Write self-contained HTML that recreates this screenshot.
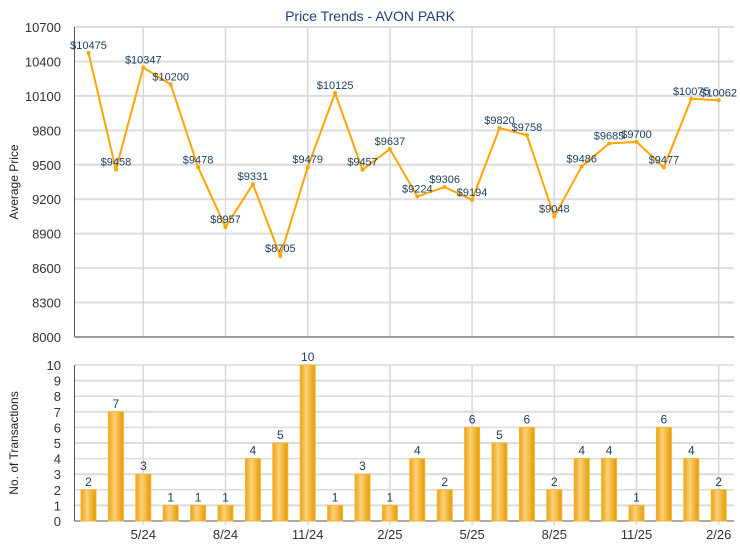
<!DOCTYPE html>
<html><head><meta charset="utf-8"><style>
body{margin:0;background:#fff}
svg{display:block;font-family:"Liberation Sans",Arial,sans-serif}
</style></head><body>
<svg id="s" width="740" height="550" xmlns="http://www.w3.org/2000/svg">
<defs>
<linearGradient id="g" x1="0" x2="1" y1="0" y2="0">
<stop offset="0" stop-color="#eaa21a"/><stop offset="0.4" stop-color="#fdd27a"/><stop offset="1" stop-color="#e49a00"/>
</linearGradient>
</defs>
<text x="370" y="21" text-anchor="middle" font-size="14" fill="#1f3f73">Price Trends - AVON PARK</text>
<text transform="translate(18,182) rotate(-90)" text-anchor="middle" font-size="12" fill="#222">Average Price</text>
<text transform="translate(18,443) rotate(-90)" text-anchor="middle" font-size="12" fill="#222">No. of Transactions</text>
<g id="c"></g>
</svg>
<script>
const ns="http://www.w3.org/2000/svg",c=document.getElementById('c');
function el(t,a,txt){const e=document.createElementNS(ns,t);for(const k in a)e.setAttribute(k,a[k]);if(txt!=null)e.textContent=txt;c.appendChild(e);return e;}
const L=74.5,R=734,T1=27,B1=337,T2=365,B2=521,x0=88.5,dx=27.4;
const P=[10475,9458,10347,10200,9478,8957,9331,8705,9479,10125,9457,9637,9224,9306,9194,9820,9758,9048,9486,9685,9700,9477,10075,10062];
const N=[2,7,3,1,1,1,4,5,10,1,3,1,4,2,6,5,6,2,4,4,1,6,4,2];
const labs=["5/24","8/24","11/24","2/25","5/25","8/25","11/25","2/26"];
// grids top
for(let i=0;i<=9;i++){const v=8000+i*300,y=B1-i*(B1-T1)/9;
 if(i>0)el('line',{x1:L,x2:R,y1:y,y2:y,stroke:'#dcdcdc','stroke-width':2});
 el('text',{x:61,y:y+5,'text-anchor':'end','font-size':13,fill:'#333'},v);}
for(let i=0;i<=10;i++){const y=B2-i*(B2-T2)/10;
 if(i>0)el('line',{x1:L,x2:R,y1:y,y2:y,stroke:'#dcdcdc','stroke-width':i%2?2:1.5});
 el('text',{x:61,y:y+5,'text-anchor':'end','font-size':13,fill:'#333'},i);}
labs.forEach((l,k)=>{const x=x0+(2+3*k)*dx;
 el('line',{x1:x,x2:x,y1:T1,y2:B1,stroke:'#d8d8d8','stroke-width':1.5});
 el('line',{x1:x,x2:x,y1:T2,y2:B2+4,stroke:'#d8d8d8','stroke-width':1.5});
 el('text',{x:x,y:539,'text-anchor':'middle','font-size':13,fill:'#333'},l);});
el('line',{x1:L,x2:L,y1:T1,y2:B1,stroke:'#555','stroke-width':1});
el('line',{x1:L,x2:R,y1:B1,y2:B1,stroke:'#999','stroke-width':2});
el('line',{x1:L,x2:L,y1:T2,y2:B2,stroke:'#555','stroke-width':1});
el('line',{x1:L,x2:R,y1:B2,y2:B2,stroke:'#555','stroke-width':1});
// line
const py=v=>T1+(10700-v)/2700*(B1-T1);
el('polyline',{points:P.map((v,i)=>(x0+i*dx)+','+py(v)).join(' '),fill:'none',stroke:'#ffa500','stroke-width':2});
P.forEach((v,i)=>{const x=x0+i*dx,y=py(v);el('circle',{cx:x,cy:y,r:2,fill:'#ffa500'});
 el('text',{x:x,y:y-4,'text-anchor':'middle','font-size':11,fill:'#1f3f60'},'$'+v);});
// bars
const u=(B2-T2)/10;
N.forEach((n,i)=>{const x=x0+i*dx;
 el('rect',{x:x-7.5,y:B2-n*u,width:15,height:n*u,fill:'url(#g)',stroke:'#f5b730','stroke-width':1});
 el('text',{x:x,y:B2-n*u-4,'text-anchor':'middle','font-size':12,fill:'#1f3f60'},n);});
</script>
</body></html>
